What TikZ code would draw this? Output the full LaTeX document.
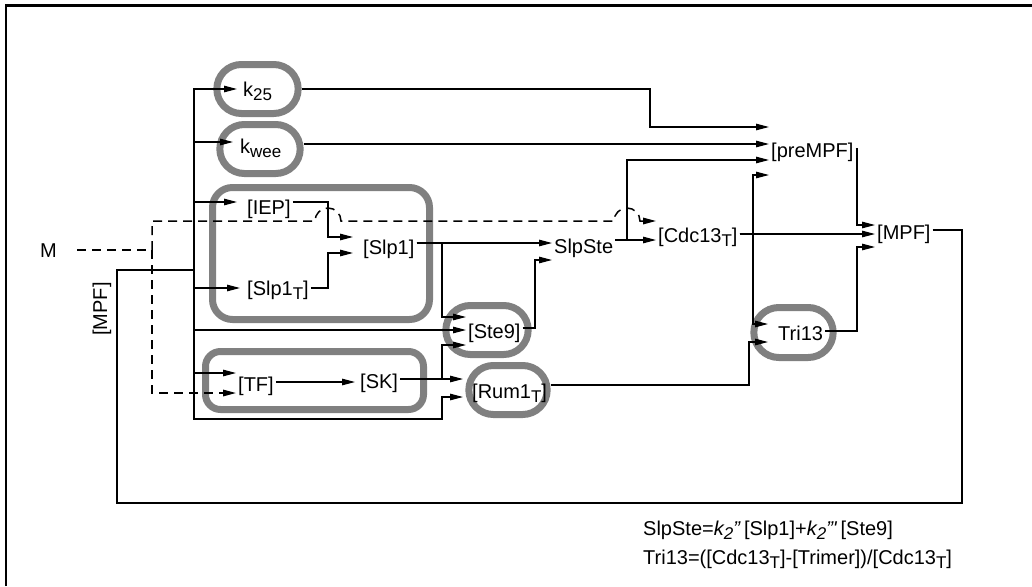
\documentclass[tikz,border=0pt]{standalone}
\usepackage{fontspec}
\setmainfont{Liberation Sans}
\usetikzlibrary{arrows.meta,shapes.misc}
\definecolor{boxgray}{gray}{0.5}
\newcommand\subtxt[1]{\raisebox{-4pt}{\fontsize{17}{17}\selectfont #1}}
\tikzset{
  lbl/.style={font=\fontsize{20}{24}\selectfont, inner xsep=2pt, inner ysep=0pt,
    text height=14pt, text depth=0pt, anchor=west},
  pill/.style={rounded rectangle, draw=boxgray, line width=7pt},
  grp/.style={rectangle, draw=boxgray, line width=7pt},
  bare/.style={line width=1.2pt},
  wire/.style={line width=1.2pt, -{Triangle[length=13pt,width=6.5pt]}},
  dline/.style={line width=1.5pt, dash pattern=on 9pt off 6pt},
}
\begin{document}
\begin{tikzpicture}[x=1pt,y=-1pt]
  \useasboundingbox (0,0) rectangle (1032,586);
  %frame
  \draw[line width=2.5pt] (6,586) -- (6,5.5) -- (1032,5.5);
  %grey groups
  \node[pill, minimum width=88pt, minimum height=49pt] (k25box) at (257.5,89) {};
  \node[pill, minimum width=87pt, minimum height=49pt] (kweebox) at (260,149) {};
  \node[grp, rounded corners=20pt, minimum width=217pt, minimum height=132pt] (slpgrp) at (321,253.5) {};
  \node[grp, rounded corners=15pt, minimum width=218pt, minimum height=58pt] (tfgrp) at (314.5,380.5) {};
  \node[pill, minimum width=89pt, minimum height=49pt] (Ste9box) at (487,330) {};
  \node[pill, minimum width=85pt, minimum height=49pt] (Rum1Tbox) at (508,390) {};
  \node[pill, minimum width=86pt, minimum height=50pt] (Tri13box) at (793.5,332.5) {};
  %species
  \node[lbl] (M) at (38,250) {M};
  \node[lbl] (k25) at (241,89) {k\subtxt{25}};
  \node[lbl] (kwee) at (238,146) {k\subtxt{wee}};
  \node[lbl] (IEP) at (245,207) {[IEP]};
  \node[lbl] (Slp1T) at (245,288) {[Slp1\subtxt{T}]};
  \node[lbl] (Slp1) at (361,247) {[Slp1]};
  \node[lbl] (Ste9) at (466,331) {[Ste9]};
  \node[lbl] (Rum1T) at (470,391) {[Rum1\subtxt{T}]};
  \node[lbl] (TF) at (236,384) {[TF]};
  \node[lbl] (SK) at (358,381) {[SK]};
  \node[lbl] (SlpSte) at (552,246) {SlpSte};
  \node[lbl] (Cdc13T) at (656,235) {[Cdc13\subtxt{T}]};
  \node[lbl] (preMPF) at (769,150) {[preMPF]};
  \node[lbl] (MPF) at (875,232) {[MPF]};
  \node[lbl] (Tri13) at (776,333) {Tri13};
  \node[lbl, anchor=center, rotate=90] (MPFfb) at (100,309) {[MPF]};
  \node[lbl] (eqSlpSte) at (641,528.5) {SlpSte=\textit{k\subtxt{2}"}\,[Slp1]+\textit{k\subtxt{2}"\textquotesingle}\,[Ste9]};
  \node[lbl] (eqTri13) at (641,557) {Tri13=([Cdc13\subtxt{T}]-[Trimer])/[Cdc13\subtxt{T}]};
  \coordinate (trunk) at (194,270);
  \coordinate (mj) at (152,250);
  %MPF fed back onto the trunk
  \draw[bare] ([yshift=2pt]MPF.east) -| (962,503) -| (117,270) -- (trunk);
  \draw[wire, shorten >=4pt] (trunk) |- (k25.west);
  \draw[wire, shorten >=5pt] (trunk) |- ([yshift=4pt]kwee.west);
  \draw[wire, shorten >=8pt] (trunk) |- ([yshift=5pt]IEP.west);
  \draw[wire, shorten >=5pt] (trunk) |- (Slp1T.west);
  \draw[wire] (trunk) |- ([yshift=1pt]Ste9.west);
  \draw[wire] (trunk) |- ([yshift=11pt]TF.west);
  \draw[wire, shorten >=7pt] (trunk) |- (442,419) |- ([yshift=-6pt]Rum1T.west);
  %M, dashed, hopping over two wires
  \draw[dline, shorten <=18pt] (M.east) -- (mj);
  \draw[dline, -{Triangle[length=13pt,width=6.5pt]}] (mj) |- ([yshift=-9pt]TF.west);
  \draw[dline, -{Triangle[length=13pt,width=6.5pt]}] (mj) |- (315,221)
    arc[start angle=180, end angle=0, radius=13pt] -- (614,221)
    arc[start angle=180, end angle=0, radius=13pt] -- ([yshift=14pt]Cdc13T.west);
  %Slp1
  \draw[wire, shorten >=8pt] ([yshift=5pt]IEP.east) -| (328,220) |- ([yshift=10pt]Slp1.west);
  \draw[wire, shorten >=8pt] (Slp1T.east) -| (328,260) |- ([yshift=-6pt]Slp1.west);
  \draw[wire] ([yshift=4pt]Slp1.east) -- ([yshift=3pt]SlpSte.west);
  \draw[wire] ([yshift=4pt]Slp1.east) -| (442,280) |- ([yshift=14pt]Ste9.west);
  %TF, SK
  \draw[wire, shorten >=3pt] ([yshift=2pt]TF.east) -- ([yshift=-1pt]SK.west);
  \draw[wire, shorten >=7pt] ([yshift=2pt]SK.east) -- ([yshift=12pt]Rum1T.west);
  \draw[wire] ([yshift=2pt]SK.east) -| (442,360) |- ([yshift=-14pt]Ste9.west);
  %SlpSte
  \draw[wire] ([yshift=3pt]Ste9.east) -| (535,290) |- ([yshift=-14pt]SlpSte.west);
  \draw[wire] ([yshift=6pt]SlpSte.east) -- ([yshift=-5pt]Cdc13T.west);
  \draw[wire] ([yshift=6pt]SlpSte.east) -| (627,200) |- ([yshift=-10pt]preMPF.west);
  %preMPF
  \draw[wire] (k25box.east) -| (650,110) |- ([yshift=23pt]preMPF.west);
  \draw[wire] ([yshift=5pt]kweebox.east) -- ([yshift=6pt]preMPF.west);
  \draw[wire] ([yshift=1pt]Cdc13T.east) -| (753,200) |- ([yshift=-25pt]preMPF.west);
  %Tri13
  \draw[wire, shorten >=8pt] ([yshift=1pt]Cdc13T.east) -| (753,280) |- ([yshift=9pt]Tri13.west);
  \draw[wire, shorten >=8pt] ([yshift=5pt]Rum1Tbox.east) -| (749,360) |- ([yshift=-9pt]Tri13.west);
  %MPF
  \draw[wire] ([yshift=1pt]Cdc13T.east) -- ([yshift=-2pt]MPF.west);
  \draw[wire] ([yshift=1pt]preMPF.east) -| (857,190) |- ([yshift=7pt]MPF.west);
  \draw[wire] ([yshift=2pt]Tri13.east) -| (857,290) |- ([yshift=-15pt]MPF.west);
\end{tikzpicture}
\end{document}
